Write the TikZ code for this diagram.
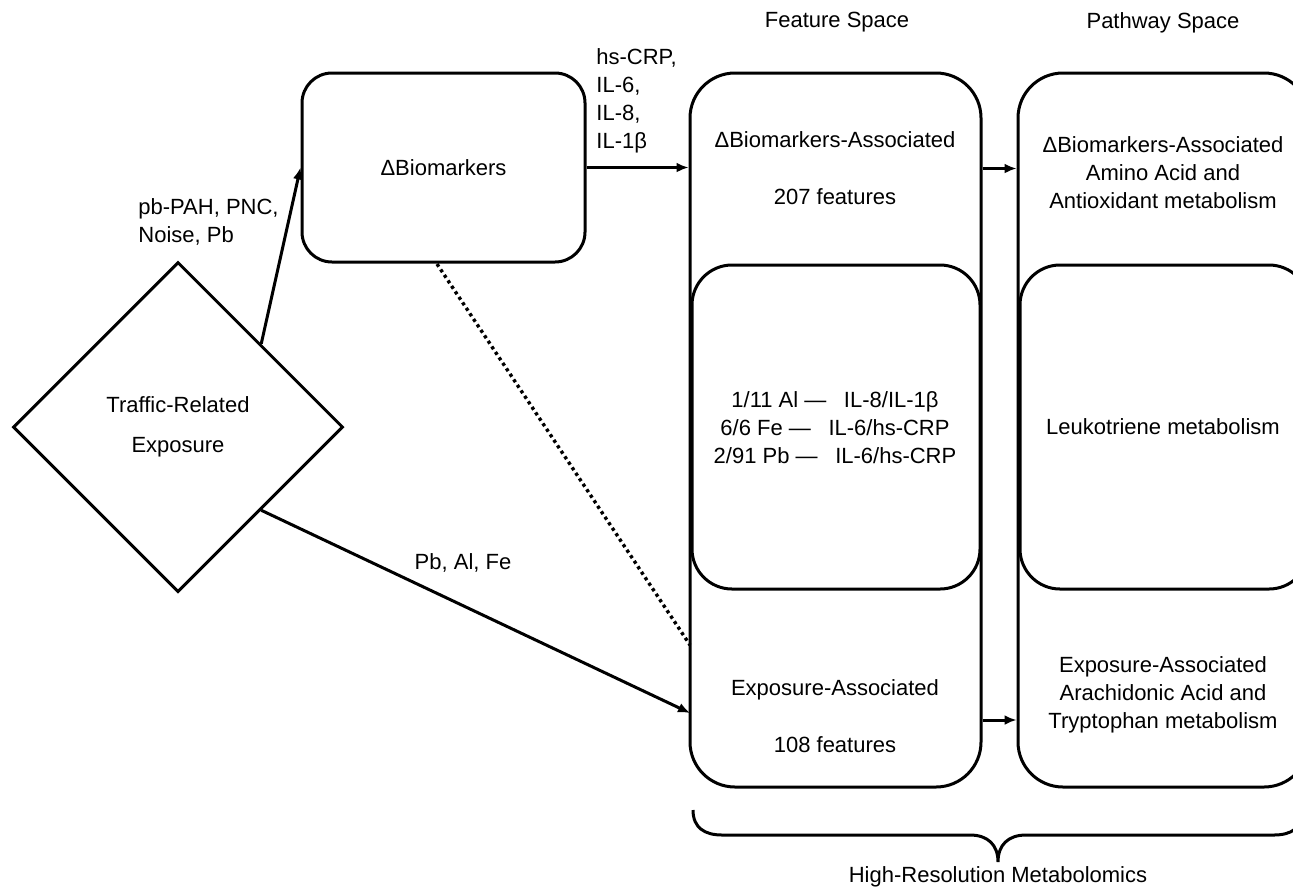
\documentclass[tikz,border=0pt]{standalone}
\usepackage{fontspec}
\setmainfont{Liberation Sans}
\usetikzlibrary{shapes.geometric,arrows.meta}
\tikzset{F1box/.style={draw,line width=1.5pt,rounded corners=#1,inner sep=0pt},
         F1dia/.style={draw,diamond,aspect=1,line width=1.5pt,minimum size=165pt,inner sep=0pt,align=center},
         F1txt/.style={align=center},
         F1lab/.style={align=left,anchor=west,inner sep=0pt},
         F1arr/.style={line width=1.5pt,-{Latex[length=6pt,width=5pt]}},
         F1dot/.style={line width=1.7pt,dash pattern=on 1.6pt off 1.7pt}}

\begin{document}
\begin{tikzpicture}[x=0.5pt,y=-0.5pt,font=\fontsize{11}{14}\selectfont]
    \useasboundingbox (0,0) rectangle (1293,889);
    % shapes
    \node[F1dia] (tre) at (178,427) {Traffic-Related\\[6pt]Exposure};
    \node[F1box=15pt,minimum width=141.5pt,minimum height=94.5pt] (bio) at (443.5,167.5) {ΔBiomarkers};
    \node[F1box=22.5pt,minimum width=145.5pt,minimum height=357pt] (fout) at (835.5,430) {};
    \node[F1box=20pt,minimum width=144pt,minimum height=162pt] (fmid) at (836,427) {};
    \node[F1box=22.5pt,minimum width=145.5pt,minimum height=357pt] (pout) at (1163.5,430) {};
    \node[F1box=20pt,minimum width=144.5pt,minimum height=162pt] (pmid) at (1164.5,427) {};
    % box texts
    \node[F1txt] (ftop) at (835,168.5) {ΔBiomarkers-Associated\\[14.5pt]207 features};
    \node[F1txt] (fcen) at (835,428) {1/11 Al —\hspace{0.8em}IL-8/IL-1β\\6/6 Fe —\hspace{0.8em}IL-6/hs-CRP\\2/91 Pb —\hspace{0.8em}IL-6/hs-CRP};
    \node[F1txt] (fbot) at (835,716.5) {Exposure-Associated\\[14.5pt]108 features};
    \node[F1txt] (ptop) at (1163,172.5) {ΔBiomarkers-Associated\\Amino Acid and\\Antioxidant metabolism};
    \node[F1txt] (pcen) at (1163,427) {Leukotriene metabolism};
    \node[F1txt] (pbot) at (1163,695) {Exposure-Associated\\Arachidonic Acid and\\Tryptophan metabolism};
    \node (hfeat) at (837,22) {Feature Space};
    \node (hpath) at (1163,23) {Pathway Space};
    \node (hrm) at (998,877) {High-Resolution Metabolomics};
    % edge labels
    \node[F1lab] (lbA) at (138,221.5) {pb-PAH, PNC,\\Noise, Pb};
    \node[F1lab] (lbB) at (596,100.5) {hs-CRP,\\IL-6,\\IL-8,\\IL-1β};
    \node (lbC) at (463,563) {Pb, Al, Fe};
    % connectors
    \coordinate (expIn) at (690,713);
    \coordinate (dotBeg) at (437,264);
    \coordinate (dotEnd) at (690,645);
    \draw[F1arr] (tre.north east) -- (bio.west);
    \draw[F1arr] (bio.east) -- (bio.east -| fout.west);
    \draw[F1arr] (tre.south east) -- (expIn);
    \draw[F1dot] (dotBeg) -- (dotEnd);
    \draw[F1arr] (fout.east |- ftop) -- (pout.west |- ftop);
    \draw[F1arr] (fout.east |- 0,720) -- (pout.west |- 0,720);
    % brace
    \draw[line width=1.5pt] (693,810) .. controls (693,828) and (705,835) .. (722,835) -- (970,835)
      .. controls (988,835) and (998,845) .. (998,862) .. controls (998,845) and (1008,835) .. (1026,835)
      -- (1274,835) .. controls (1291,835) and (1303,828) .. (1303,810);
\end{tikzpicture}
\end{document}
